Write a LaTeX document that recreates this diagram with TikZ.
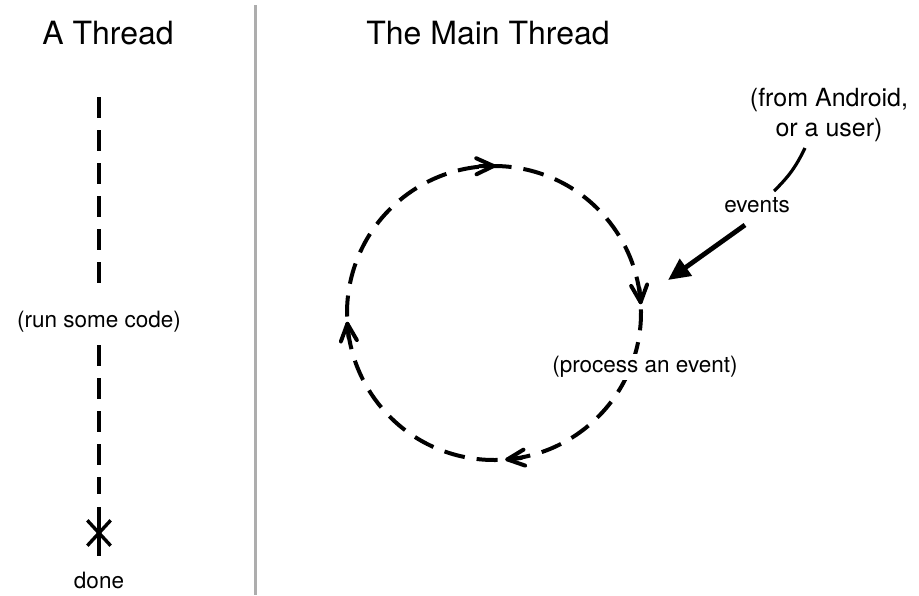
\documentclass[tikz,border=0pt]{standalone}
\usepackage{fontspec}
\setmainfont{TeX Gyre Heros}
\usetikzlibrary{arrows.meta,shapes.misc}
\begin{document}
\begin{tikzpicture}[x=1pt,y=-1pt,
  title/.style={font=\fontsize{32}{38}\selectfont, inner sep=0pt},
  lbl/.style={font=\fontsize{22.5}{27}\selectfont, inner sep=2pt},
  biglbl/.style={font=\fontsize{25}{30}\selectfont, inner sep=2pt, align=center},
  dashline/.style={line width=4pt, dash pattern=on 21pt off 12pt},
  solidline/.style={line width=4pt},
  thinline/.style={line width=3.2pt},
  evarrow/.style={line width=4.8pt, -{Triangle[length=22pt,width=20pt]}},
  divider/.style={line width=3pt, draw=black!32},
  barbtip/.style={solid, line width=4pt, line cap=round, line join=round}
]
\useasboundingbox[fill=white] (0,0) rectangle (919,595);

% divider
\coordinate (d0) at (255,5);
\coordinate (d1) at (255,595);
\draw[divider] (d0) -- (d1);

% titles
\node[title] (t1) at (108,33) {A Thread};
\node[title] (t2) at (488,33) {The Main Thread};

% left thread
\coordinate (a0) at (99,97);
\coordinate (a1) at (99,293);
\node[lbl] (run) at (99,322) {(run some code)};
\coordinate (a2) at (99,345);
\coordinate (a3) at (99,494);
\coordinate (a4) at (99,507);
\coordinate (a5) at (99,556);
\draw[dashline] (a0) -- (a1);
\draw[dashline] (a2) -- (a3);
\draw[solidline] (a4) -- (a5);
\node[cross out, draw, line width=3.4pt, minimum width=20pt, minimum height=22pt, inner sep=0pt] (stop) at (99,533) {};
\node[lbl] (done) at (99,580) {done};

% main loop
\coordinate (c) at (494,313);
\draw[dashline] ([shift={(320:147)}]c) arc[start angle=320, end angle=680, radius=147];
\path (c) ++(355:147) coordinate (m1);
\path (c) ++(84:147) coordinate (m2);
\path (c) ++(175:147) coordinate (m3);
\path (c) ++(269:147) coordinate (m4);
\foreach \m/\r in {m1/-85, m2/-174, m3/95, m4/1}{
  \begin{scope}[shift={(\m)}, rotate=\r]
    \draw[barbtip] (-15pt,-8pt) -- (2pt,0pt) -- (-15pt,8pt);
    \draw[barbtip] (-12pt,0pt) -- (2pt,0pt);
  \end{scope}
}
\node[lbl, fill=white] (proc) at (645,367) {(process an event)};

% events
\node[biglbl] (android) at (829,115) {(from Android,\\or a user)};
\node[lbl] (events) at (757,205) {events};
\coordinate (b0) at (805,148);
\coordinate (b1) at (774,191);
\draw[thinline] (b0) to[bend left=10] (b1);
\coordinate (e0) at (745,225);
\coordinate (e1) at (668,280);
\draw[evarrow] (e0) -- (e1);
\end{tikzpicture}
\end{document}
